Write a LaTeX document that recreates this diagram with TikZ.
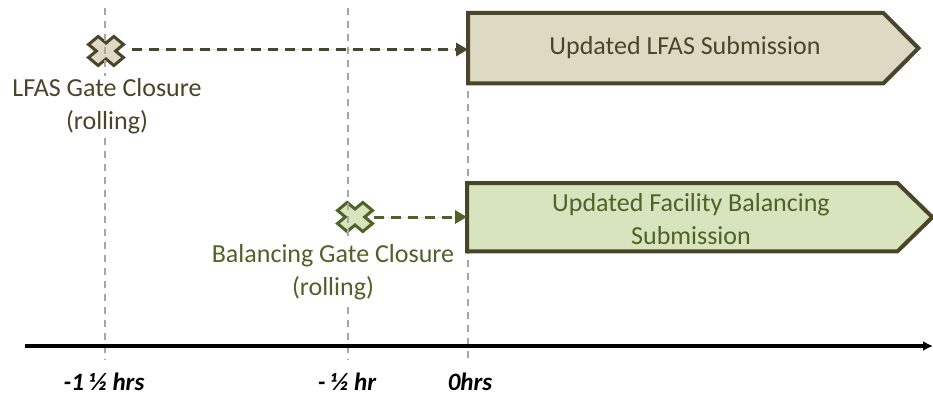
\documentclass[tikz,border=0pt]{standalone}
\usepackage{fontspec}
\setmainfont{Carlito}
\usetikzlibrary{arrows.meta}

\definecolor{olivedark}{HTML}{4A452A}
\definecolor{tanfill}{HTML}{DDD9C3}
\definecolor{greenfill}{HTML}{D7E4BD}
\definecolor{greendark}{HTML}{4F6228}
\definecolor{guidegray}{HTML}{A6A6A6}

\tikzset{
  guideline/.style={draw=guidegray, line width=1.5pt, dash pattern=on 7pt off 6pt},
  axisline/.style={draw=black, line width=4pt, -{Latex[length=10pt,width=10pt]}},
  gatehold/.style={draw=none, minimum width=38pt, minimum height=32pt, inner sep=0pt},
  gatecross/.pic={
    \path[pic actions, xscale=17.9, yscale=14.9, rotate=45]
      (0.38,0.38) -- (1,0.38) -- (1,-0.38) -- (0.38,-0.38) -- (0.38,-1) -- (-0.38,-1)
      -- (-0.38,-0.38) -- (-1,-0.38) -- (-1,0.38) -- (-0.38,0.38) -- (-0.38,1)
      -- (0.38,1) -- cycle;
  },
  lfascross/.style={draw=olivedark, fill=tanfill, line width=3pt, line join=miter},
  balcross/.style={draw=greendark, fill=greenfill, line width=3pt, line join=miter},
  flowarrow/.style={line width=3pt, dash pattern=on 10pt off 7pt,
    -{Triangle[length=12pt,width=13pt]}},
  boxbody/.style={draw=none, inner sep=0pt, anchor=north west},
  boxedge/.style={draw=olivedark, line width=4pt, line join=miter},
  bigtext/.style={font=\fontsize{26}{33}\selectfont, align=center, inner sep=1pt},
  gatetext/.style={bigtext, fill=white, inner sep=2pt},
  ticktext/.style={font=\fontsize{25}{30}\selectfont\bfseries\itshape, text=black,
    inner sep=0pt, anchor=base},
}

\begin{document}
\begin{tikzpicture}[x=1pt, y=-1pt]
  \useasboundingbox[fill=white] (0,0) rectangle (933,398);

  % gate closure markers
  \node[gatehold] (lfasgate) at (106,51) {};
  \pic[lfascross] at (lfasgate) {gatecross};
  \node[gatehold] (balgate) at (355,217) {};
  \pic[balcross] at (balgate) {gatecross};

  % time guides
  \coordinate (gA) at (105,8);    \coordinate (gAend) at (105,360);
  \coordinate (gB) at (348,8);    \coordinate (gBend) at (348,360);
  \coordinate (gC) at (468,13);   \coordinate (gCend) at (468,360);
  \draw[guideline] (gA) -- (gAend);
  \draw[guideline] (gB) -- (gBend);
  \draw[guideline] (gC) -- (gCend);

  % gate labels
  \node[gatetext, text=olivedark] (lfasgatelabel) at (107,106)
    {LFAS Gate Closure\\(rolling)};
  \node[gatetext, text=greendark] (balgatelabel) at (333,272)
    {Balancing Gate Closure\\(rolling)};

  % submission windows
  \node[boxbody, minimum width=415pt, minimum height=70pt] (lfasbox) at (468,13) {};
  \draw[boxedge, fill=tanfill] (lfasbox.north west) -- (lfasbox.north east)
    -- ([xshift=35pt]lfasbox.east) -- (lfasbox.south east) -- (lfasbox.south west) -- cycle;
  \node[bigtext, text=olivedark] (lfastext) at (685,48) {Updated LFAS Submission};

  \node[boxbody, minimum width=430pt, minimum height=68pt] (balbox) at (467,183) {};
  \draw[boxedge, fill=greenfill] (balbox.north west) -- (balbox.north east)
    -- ([xshift=35pt]balbox.east) -- (balbox.south east) -- (balbox.south west) -- cycle;
  \node[bigtext, text=greendark] (baltext) at (691,219)
    {Updated Facility Balancing\\Submission};

  % links from gate closure to submission
  \draw[flowarrow, draw=olivedark, fill=olivedark]
    ([xshift=7pt,yshift=1.5pt]lfasgate.east) -- ([yshift=1.5pt]lfasgate.east -| lfasbox.west);
  \draw[flowarrow, draw=greendark, fill=greendark]
    (balgate.east) -- (balgate.east -| balbox.west);

  % time axis
  \coordinate (axisstart) at (25,346);
  \coordinate (axisend) at (933,346);
  \draw[axisline] (axisstart) -- (axisend);

  \node[ticktext] (tickA) at (104,390) {-1 ½ hrs};
  \node[ticktext] (tickB) at (347,390) {- ½ hr};
  \node[ticktext] (tickC) at (470,390) {0hrs};
\end{tikzpicture}
\end{document}
